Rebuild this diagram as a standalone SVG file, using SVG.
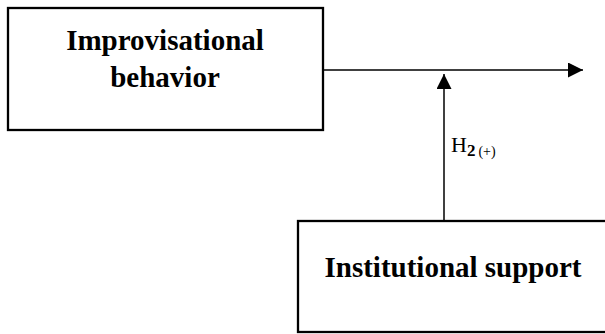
<svg xmlns="http://www.w3.org/2000/svg" width="605" height="334" viewBox="0 0 605 334">
<style>
.box{fill:#fff;stroke:#000;stroke-width:2.3}
.lbl{font-family:"Liberation Serif","Times New Roman",serif;font-weight:bold;font-size:29px;fill:#000;text-anchor:middle}
.conn{stroke:#000;stroke-width:1.5;fill:none}
.h{font-family:"Liberation Serif","Times New Roman",serif;fill:#000}
</style>
<defs>
<marker id="ah" markerWidth="15" markerHeight="15" refX="15" refY="7.5" orient="auto" markerUnits="userSpaceOnUse">
<path d="M0,0 L15,7.5 L0,15 Z" fill="#000"/>
</marker>
</defs>
<rect width="605" height="334" fill="#fff"/>
<g id="node-improvisational">
<rect class="box" x="8" y="8" width="315" height="122"/>
<text class="lbl" x="165" y="50">Improvisational</text>
<text class="lbl" x="165" y="87">behavior</text>
</g>
<g id="node-institutional">
<rect class="box" x="298" y="221" width="312" height="111"/>
<text class="lbl" x="453" y="277">Institutional support</text>
</g>
<g id="connectors">
<line class="conn" x1="324" y1="70" x2="583" y2="70" marker-end="url(#ah)"/>
<line class="conn" x1="444" y1="220" x2="444" y2="74" marker-end="url(#ah)"/>
<text class="h" x="451" y="152" font-size="22">H<tspan font-size="17" font-weight="bold" dy="4">2</tspan><tspan font-size="14" dx="3">(+)</tspan></text>
</g>
</svg>
